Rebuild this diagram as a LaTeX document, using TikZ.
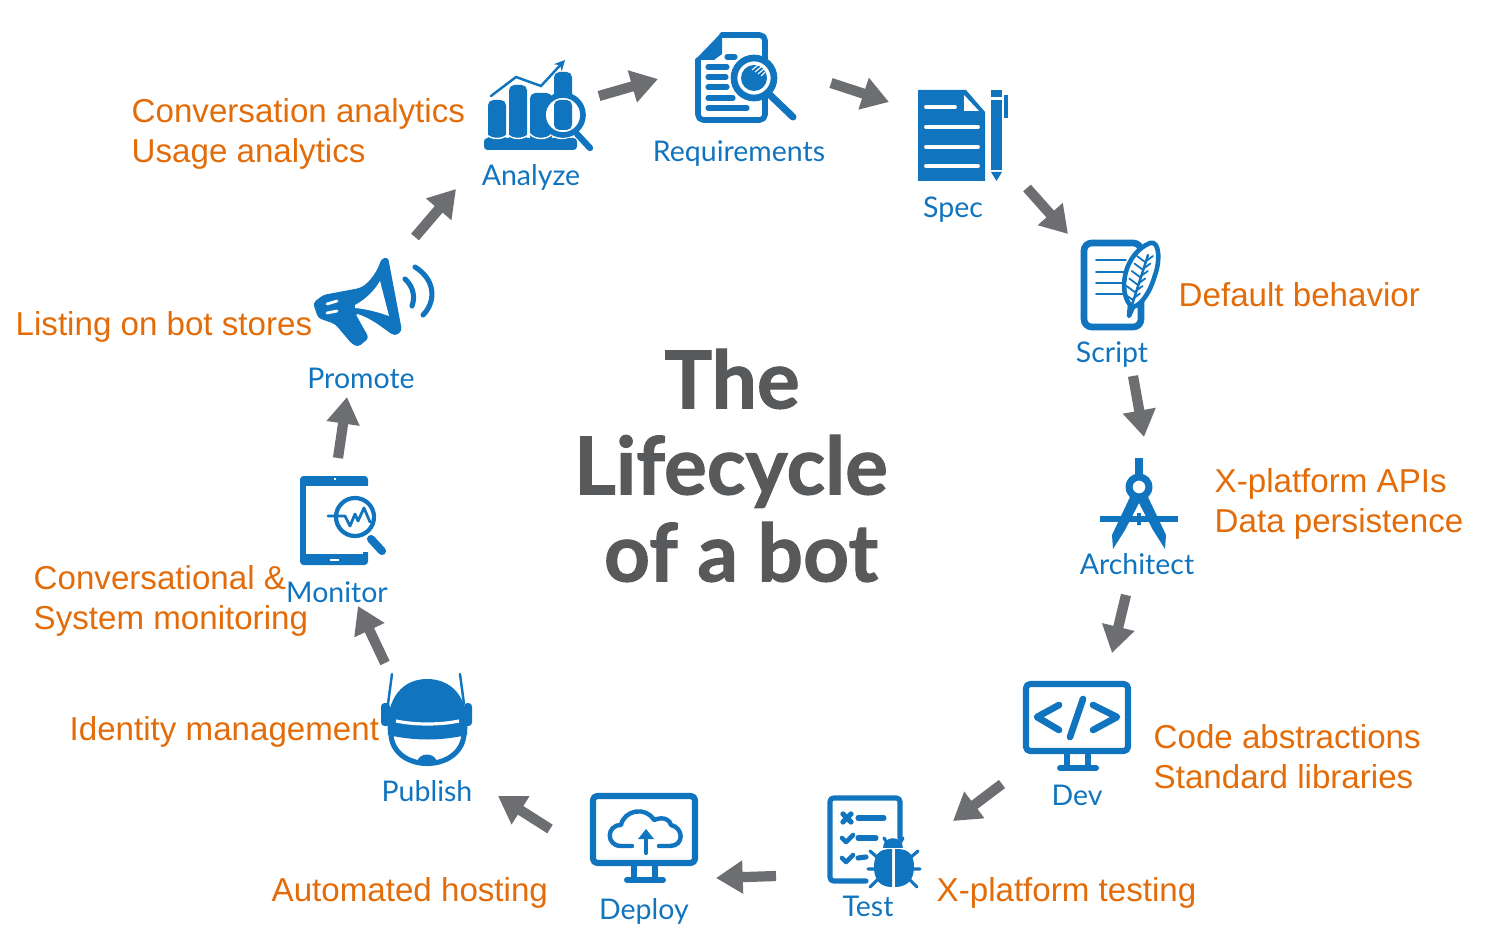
\documentclass[tikz,border=0pt]{standalone}
\usepackage{fontspec}
\setmainfont{Liberation Sans}
\newfontfamily\stagefont{Lato}
\newfontfamily\headfont{Lato}[BoldFeatures={FakeBold=1.2}]
\usetikzlibrary{arrows.meta}

\definecolor{botblue}{HTML}{1174BE}
\definecolor{botorange}{HTML}{E36C0A}
\definecolor{botgray}{HTML}{6D6E71}
\definecolor{titlegray}{HTML}{58595B}

\tikzset{
  note/.style={text=botorange,anchor=west,align=left,inner sep=0pt,font=\fontsize{9.42}{11.4}\selectfont},
  stage/.style={text=botblue,anchor=base,inner sep=0pt,font=\stagefont\fontsize{8.1}{10}\selectfont},
  headline/.style={text=titlegray,anchor=base,inner sep=0pt,font=\headfont\bfseries\fontsize{22.8}{24}\selectfont},
  flow/.style={draw=botgray,line width=2.9pt,-{Triangle[length=7.6pt,width=9pt]}},
  iconline/.style={draw=botblue,line width=1.45pt,line cap=round,line join=round},
  iconthin/.style={draw=botblue,line width=0.7pt,line cap=round},
  iconfill/.style={fill=botblue},
  iconwhite/.style={draw=white,line width=1.1pt,line cap=round}
}

\newcommand{\screenicon}[2]{
  \begin{scope}[shift={(#1,#2)}]
    \draw[iconline,line width=1.75pt,rounded corners=1.2pt] (3,3) rectangle (105,70);
    \fill[iconfill] (41,72) rectangle (47,86);
    \fill[iconfill] (62,72) rectangle (68,86);
    \draw[iconline,line width=1.7pt] (37,87) -- (73,87);
  \end{scope}
}

\begin{document}
\begin{tikzpicture}[x=0.01cm,y=-0.01cm]
\useasboundingbox (0,0) rectangle (1485,940);

% analyze
\fill[iconfill,rounded corners=1.5pt] (488,100) rectangle (506,142);
\fill[iconfill,rounded corners=1.5pt] (509,85) rectangle (527,142);
\fill[iconfill,rounded corners=1.5pt] (530,93) rectangle (552,142);
\fill[iconfill,rounded corners=1.5pt] (554,72) rectangle (572,100);
\fill[iconfill,rounded corners=1pt] (484,138) rectangle (577,150);
\foreach \sx in {497,518,541,562}
  \draw[white,line width=0.4pt] ({\sx-11},134) .. controls ({\sx-6},140) and ({\sx+6},140) .. ({\sx+11},134);
\draw[iconthin,-{Stealth[length=3pt,width=3pt]}] (491,96) -- (516,77) -- (541,86) -- (565,60);
\draw[iconline,line width=1.8pt] (577,134) -- (590,148);
\draw[iconline,fill=white,line width=1.6pt] (563,115) circle (20);
\fill[iconfill,rounded corners=1.5pt] (554,100) rectangle (572,130);

% requirements
\draw[iconline,line width=1.6pt,rounded corners=1.5pt] (722,35) -- (765,35) -- (765,120) -- (698,120) -- (698,60);
\fill[iconfill] (695,60) -- (722,32) -- (722,54) -- (714,60) -- cycle;
\foreach \ly/\lx in {67/727,77/726,87/727,98/733,108/747}
  \draw[iconline] (708,\ly) -- (\lx,\ly);
\draw[iconline] (727,57) -- (735,57);
\draw[iconline,line width=2pt] (770,95) -- (793,117);
\draw[iconline,fill=white,line width=1.9pt] (754,78) circle (20);
\fill[iconfill] (754,78) circle (13);
\draw[white,line width=0.3pt] (752,70) -- (758,65) (755,72) -- (761,67) (758,74) -- (764,69) (761,76) -- (765,72);

% spec
\fill[iconfill] (918,90) -- (966,90) -- (985,112) -- (985,181) -- (918,181) -- cycle;
\fill[white] (964,95) -- (979,111) -- (964,111) -- cycle;
\draw[iconwhite] (926,107) -- (955,107);
\foreach \ly in {127,147,166}
  \draw[iconwhite] (926,\ly) -- (978,\ly);
\fill[iconfill] (991,90) rectangle (1002,97);
\fill[iconfill] (991,100) rectangle (1002,170);
\fill[iconfill] (991,172) -- (1002,172) -- (996.5,181) -- cycle;
\fill[iconfill] (1004,95) rectangle (1008,118);

% script
\draw[iconline,line width=1.9pt,rounded corners=2.2pt] (1084,243) rectangle (1141,327);
\foreach \ly in {260,272,283,294}
  \draw[iconthin,line width=0.5pt] (1096,\ly) -- (1126,\ly);
\draw[iconline,fill=white,line width=1.3pt] (1129,316) -- (1130,305) .. controls (1118,290) and (1124,254) .. (1150,243) .. controls (1160,240) and (1160,262) .. (1155,275) .. controls (1151,290) and (1142,305) .. (1133,307) -- cycle;
\draw[iconthin] (1132,305) -- (1148,255);
\foreach \by in {0,1,2,3,4,5}
  \draw[iconthin,line width=0.5pt] ({1145-\by*2.6-8},{262+\by*7.5-6}) -- ({1145-\by*2.6},{262+\by*7.5}) -- ({1145-\by*2.6+8},{262+\by*7.5-6});

% architect
\fill[iconfill] (1135,458) rectangle (1143,478);
\fill[iconfill] (1130,497) -- (1112,535) -- (1113,549) -- (1125,530) -- (1139,503) -- (1153,530) -- (1165,549) -- (1166,535) -- (1148,497) -- cycle;
\draw[iconline,fill=white,line width=2pt] (1139,487) circle (10);
\draw[iconline,line width=1.7pt,line cap=butt] (1100,519) -- (1178,519);
\fill[iconfill] (1137,513) rectangle (1141,525);

% dev
\screenicon{1023}{681}
\draw[iconline,line width=1.9pt] (1059,705) -- (1037,717) -- (1059,730);
\draw[iconline,line width=1.9pt] (1093,705) -- (1117,717) -- (1093,730);
\draw[iconline,line width=1.9pt] (1083,699) -- (1070,737);

% test
\draw[iconline,rounded corners=1pt] (866,881) -- (830,881) -- (830,798) -- (900,798) -- (900,838);
\draw[iconline,line width=1.5pt] (843,814) -- (851,822) (851,814) -- (843,822);
\draw[iconline] (858,818) -- (884,818);
\draw[iconline,line width=1.3pt] (842,838) -- (846,842) -- (853,835);
\draw[iconline] (858,838) -- (876,838);
\draw[iconline,line width=1.3pt] (842,858) -- (846,862) -- (853,855);
\draw[iconline] (858,858) -- (866,857);
\fill[iconfill] (883,848) .. controls (883,835) and (903,835) .. (903,848) -- cycle;
\fill[iconfill] (874,867) .. controls (874,850) and (884,849) .. (892,849) -- (892,887) .. controls (880,887) and (874,880) .. (874,867) -- cycle;
\fill[iconfill] (914,867) .. controls (914,850) and (904,849) .. (895,849) -- (895,887) .. controls (907,887) and (914,880) .. (914,867) -- cycle;
\draw[iconthin,line width=0.9pt] (884,838) -- (887,843) (903,838) -- (900,843) (870,851) -- (878,858) (918,851) -- (910,858) (868,869) -- (874,869) (920,869) -- (914,869) (870,887) -- (877,880) (917,887) -- (910,880);

% deploy
\screenicon{590}{793}
\draw[iconline,line width=1.25pt] (632,846) -- (621,846) .. controls (606,846) and (606,825) .. (621,825) .. controls (624,810) and (646,806) .. (654,820) .. controls (664,816) and (670,820) .. (671,825) .. controls (684,828) and (684,846) .. (670,846) -- (659,846);
\draw[iconline,line width=1.2pt] (646,853) -- (646,835);
\fill[iconfill] (638,839) -- (646,829) -- (654,839) -- cycle;

% publish
\draw[iconthin] (392,674) -- (388,704) (460,674) -- (464,704);
\fill[iconfill,rounded corners=1pt] (381,703) rectangle (390,726);
\fill[iconfill,rounded corners=1pt] (464,703) rectangle (472,726);
\draw[iconline] (391,735) .. controls (394,773) and (460,773) .. (464,735);
\fill[iconfill] (388,735) .. controls (385,695) and (405,679) .. (427,679) .. controls (450,679) and (470,695) .. (467,735) .. controls (440,741) and (415,741) .. (388,735) -- cycle;
\draw[white,line width=0.9pt] (396,721) .. controls (415,725) and (440,725) .. (459,721);
\fill[iconfill] (417,762) .. controls (419,752) and (435,752) .. (437,762) -- cycle;

% monitor
\fill[iconfill,rounded corners=1pt] (300,476) rectangle (368,565);
\fill[white] (306,486) rectangle (363,554);
\fill[white] (362,486) rectangle (369,500);
\fill[white] (362,532) rectangle (369,552);
\draw[iconline,line width=2.3pt] (371,539) -- (382,551);
\draw[iconline,fill=white,line width=1.2pt] (355,517) circle (19);
\draw[iconthin,line width=0.8pt,line join=round] (328,516) -- (345,516) -- (350,526) -- (355,514) -- (358,521) -- (364,508) -- (370,522);
\fill[white] (334,477.5) rectangle (336,479.5);
\draw[white,line width=0.6pt] (330,560) -- (339,560);

% promote
\fill[iconfill,rounded corners=1pt] (313,303) -- (323,295) -- (360,288) .. controls (370,282) and (378,270) .. (381,259) -- (388,257) -- (402,331) -- (395,336) .. controls (385,330) and (375,320) .. (355,313) -- (369,338) -- (358,347) -- (352,344) -- (335,324) -- (318,318) -- cycle;
\fill[white] (355,305) .. controls (365,300) and (375,290) .. (380,281) -- (389,316) .. controls (378,312) and (366,309) .. (355,308) -- cycle;
\draw[iconwhite,line width=0.8pt] (327,304) -- (337,301) (327,313) -- (337,311);
\draw[iconline] (405,279) .. controls (414,287) and (415,298) .. (412,306);
\draw[iconline] (415,267) .. controls (436,280) and (436,302) .. (423,315);

% arrows
\coordinate (analyzeout) at (599,96);
\coordinate (requirementsin) at (658,79);
\coordinate (requirementsout) at (831,83);
\coordinate (specin) at (889,102);
\coordinate (specout) at (1027,188);
\coordinate (scriptin) at (1068,234);
\coordinate (scriptout) at (1133,376);
\coordinate (architectin) at (1144,437);
\coordinate (architectout) at (1126,595);
\coordinate (devin) at (1112,653);
\coordinate (devout) at (1002,784);
\coordinate (testin) at (953,821);
\coordinate (testout) at (776,876);
\coordinate (deployin) at (716,878);
\coordinate (deployout) at (550,829);
\coordinate (publishin) at (498,796);
\coordinate (publishout) at (385,663);
\coordinate (monitorin) at (358,606);
\coordinate (monitorout) at (338,458);
\coordinate (promotein) at (347,397);
\coordinate (promoteout) at (415,237);
\coordinate (analyzein) at (456,189);

\draw[flow] (analyzeout) -- (requirementsin);
\draw[flow] (requirementsout) -- (specin);
\draw[flow] (specout) -- (scriptin);
\draw[flow] (scriptout) -- (architectin);
\draw[flow] (architectout) -- (devin);
\draw[flow] (devout) -- (testin);
\draw[flow] (testout) -- (deployin);
\draw[flow] (deployout) -- (publishin);
\draw[flow] (publishout) -- (monitorin);
\draw[flow] (monitorout) -- (promotein);
\draw[flow] (promoteout) -- (analyzein);

% stage names
\node[stage] (analyze) at (531,186) {Analyze};
\node[stage] (requirements) at (739,162) {Requirements};
\node[stage] (spec) at (953,218) {Spec};
\node[stage] (script) at (1112,363) {Script};
\node[stage] (architect) at (1137,574) {Architect};
\node[stage] (dev) at (1077,805) {Dev};
\node[stage] (test) at (868,916) {Test};
\node[stage] (deploy) at (644,919) {Deploy};
\node[stage] (publish) at (427,801) {Publish};
\node[stage] (monitor) at (337,602) {Monitor};
\node[stage] (promote) at (361,389) {Promote};

% notes
\node[note] (analyzenote) at (131,134) {Conversation analytics\\Usage analytics};
\node[note] (scriptnote) at (1178,295) {Default behavior};
\node[note] (architectnote) at (1214,504) {X-platform APIs\\Data persistence};
\node[note] (devnote) at (1153,757) {Code abstractions\\Standard libraries};
\node[note] (testnote) at (936,893) {X-platform testing};
\node[note] (deploynote) at (271,893) {Automated hosting};
\node[note] (publishnote) at (69,732) {Identity management};
\node[note] (monitornote) at (33,600.5) {Conversational \&\\System monitoring};
\node[note] (promotenote) at (15,327) {Listing on bot stores};

% title
\node[headline] (titleone) at (732,408.5) {The};
\node[headline] (titletwo) at (731,494.5) {Lifecycle};
\node[headline] (titlethree) at (741,581.5) {of a bot};

\end{tikzpicture}
\end{document}
